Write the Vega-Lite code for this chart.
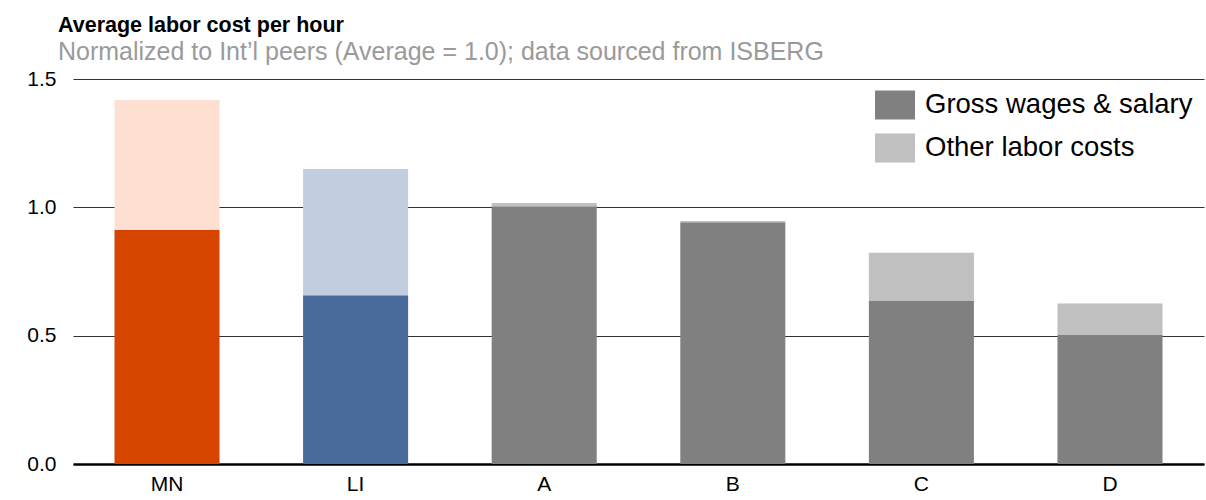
{
  "$schema": "https://vega.github.io/schema/vega-lite/v6.json",
  "width": 1131,
  "height": 385,
  "autosize": {"type": "none"},
  "padding": {"left": 73, "top": 79, "right": 2, "bottom": 36},
  "background": "white",
  "title": {
    "text": "Average labor cost per hour",
    "subtitle": "Normalized to Int’l peers (Average = 1.0); data sourced from ISBERG",
    "anchor": "start",
    "frame": "group",
    "dx": -15,
    "offset": 3,
    "font": "Liberation Sans",
    "fontSize": 21.5,
    "fontWeight": "bold",
    "color": "#000000",
    "subtitleFont": "Liberation Sans",
    "subtitleFontSize": 25,
    "subtitleColor": "#9a9a9a",
    "subtitlePadding": 4
  },
  "data": {
    "values": [
      {"country": "MN", "component": "MN gross", "rank": 1, "value": 0.913},
      {"country": "MN", "component": "MN other", "rank": 2, "value": 0.505},
      {"country": "LI", "component": "LI gross", "rank": 1, "value": 0.657},
      {"country": "LI", "component": "LI other", "rank": 2, "value": 0.492},
      {"country": "A", "component": "Gross wages & salary", "rank": 1, "value": 1.004},
      {"country": "A", "component": "Other labor costs", "rank": 2, "value": 0.013},
      {"country": "B", "component": "Gross wages & salary", "rank": 1, "value": 0.942},
      {"country": "B", "component": "Other labor costs", "rank": 2, "value": 0.005},
      {"country": "C", "component": "Gross wages & salary", "rank": 1, "value": 0.637},
      {"country": "C", "component": "Other labor costs", "rank": 2, "value": 0.186},
      {"country": "D", "component": "Gross wages & salary", "rank": 1, "value": 0.505},
      {"country": "D", "component": "Other labor costs", "rank": 2, "value": 0.12}
    ]
  },
  "mark": {"type": "bar"},
  "encoding": {
    "x": {
      "field": "country",
      "type": "nominal",
      "sort": ["MN", "LI", "A", "B", "C", "D"],
      "scale": {"paddingInner": 0.443, "paddingOuter": 0.22},
      "axis": {
        "title": null,
        "labelAngle": 0,
        "labelFont": "Liberation Sans",
        "labelFontSize": 21,
        "labelColor": "#000000",
        "labelPadding": 9,
        "ticks": false,
        "domain": true,
        "domainColor": "#000000",
        "domainWidth": 2.5,
        "grid": false
      }
    },
    "y": {
      "field": "value",
      "type": "quantitative",
      "stack": "zero",
      "scale": {"domain": [0, 1.5], "nice": false},
      "axis": {
        "title": null,
        "values": [0, 0.5, 1, 1.5],
        "format": ".1f",
        "labelFont": "Liberation Sans",
        "labelFontSize": 21,
        "labelColor": "#000000",
        "labelPadding": 17,
        "ticks": false,
        "domain": false,
        "grid": true,
        "gridColor": "#333333",
        "gridWidth": 1.2
      }
    },
    "order": {"field": "rank", "type": "quantitative"},
    "color": {
      "field": "component",
      "type": "nominal",
      "scale": {
        "domain": ["Gross wages & salary", "Other labor costs", "MN gross", "MN other", "LI gross", "LI other"],
        "range": ["#808080", "#c0c0c0", "#d64500", "#fde0d1", "#4a6a9b", "#c2cde0"]
      },
      "legend": {
        "title": null,
        "values": ["Gross wages & salary", "Other labor costs"],
        "orient": "none",
        "legendX": 802,
        "legendY": 6,
        "padding": 0,
        "symbolType": "M-1,-0.72H1V0.72H-1Z",
        "symbolSize": 1600,
        "symbolStrokeWidth": 0,
        "symbolOpacity": 1,
        "labelFont": "Liberation Sans",
        "labelFontSize": 27.5,
        "labelColor": "#000000",
        "labelOffset": 10,
        "labelLimit": 400,
        "rowPadding": 8
      }
    }
  },
  "config": {
    "view": {"stroke": null}
  }
}
